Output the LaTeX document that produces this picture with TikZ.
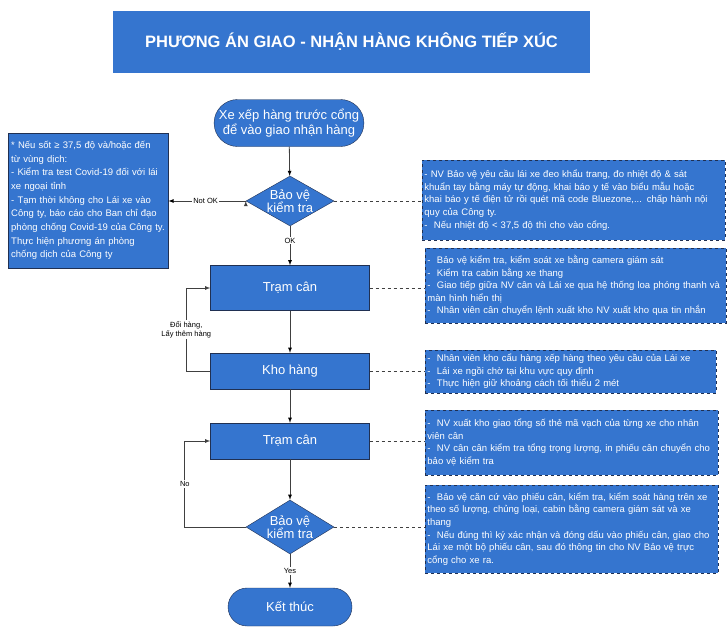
\documentclass[tikz,border=0pt]{standalone}
\usepackage{fontspec}
\setmainfont{Liberation Sans}
\usetikzlibrary{arrows,shapes.geometric,shapes.misc}
\definecolor{boxblue}{RGB}{53,117,207}
\definecolor{edgenavy}{RGB}{32,48,82}
\definecolor{linegray}{RGB}{64,64,64}
\newcommand{\setfs}[2]{\fontsize{#1}{#2}\selectfont}

\begin{document}
\begin{tikzpicture}[x=1pt,y=-1pt,>=latex,
  flow/.style={draw=edgenavy,fill=boxblue,text=white,font=\setfs{13}{15.5},align=center},
  term/.style={flow,rounded rectangle,inner sep=0pt},
  proc/.style={flow,rectangle,minimum width=159,minimum height=45},
  check/.style={flow,diamond,aspect=1.83,inner sep=-9pt,minimum width=88,minimum height=50,
    font=\setfs{13}{13.5}},
  note/.style={draw=edgenavy,dashed,line width=0.9pt,fill=boxblue,text=white,align=left,
    anchor=west,inner sep=2pt,font=\setfs{9.5}{12.6}},
  arr/.style={->,draw=linegray,line width=0.8pt},
  link/.style={draw=linegray,dashed,line width=0.6pt},
  lbl/.style={font=\setfs{7.5}{8.5},fill=white,inner sep=1pt,text=black,align=center}]
  \useasboundingbox (0,0) rectangle (727,637);

  % title
  \node[fill=boxblue,text=white,minimum width=477,minimum height=62,
    font=\bfseries\setfs{16.5}{18}] (title) at (351.5,42) {PHƯƠNG ÁN GIAO - NHẬN HÀNG KHÔNG TIẾP XÚC};

  % main column
  \node[term,minimum width=148,minimum height=47] (start) at (289,123) {Xe xếp hàng trước cổng\\để vào giao nhận hàng};
  \node[check] (gate) at (290,201) {Bảo vệ\\kiểm tra};
  \node[proc] (scale1) at (290,288) {Trạm cân};
  \node[proc,minimum height=36] (store) at (290,371) {Kho hàng};
  \node[proc,minimum height=36] (scale2) at (290,441) {Trạm cân};
  \node[check,minimum height=54] (exit) at (290,527) {Bảo vệ\\kiểm tra};
  \node[term,minimum width=124,minimum height=38] (finish) at (290,607) {Kết thúc};

  % left warning box
  \node[flow,anchor=west,align=left,text width=154,minimum height=135,inner sep=3pt,
    font=\setfs{9.5}{13.7}] (warn) at (8,200.5)
    {* Nếu sốt ≥ 37,5 độ và/hoặc đến\\từ vùng dịch:\\- Kiểm tra test Covid-19 đối với lái\\xe ngoại tỉnh\\- Tạm thời không cho Lái xe vào\\Công ty, báo cáo cho Ban chỉ đạo\\phòng chống Covid-19 của Công ty.\\Thực hiện phương án phòng\\chống dịch của Công ty};

  % right notes
  \node[note,text width=299,minimum height=80] (n1) at (422,200)
    {- NV Bảo vệ yêu cầu lái xe đeo khẩu trang, đo nhiệt độ \& sát\\khuẩn tay bằng máy tự động, khai báo y tế vào biểu mẫu hoặc\\khai báo y tế điện tử rồi quét mã code Bluezone,... chấp hành nội\\quy của Công ty.\\-~~Nếu nhiệt độ < 37,5 độ thì cho vào cổng.};
  \node[note,text width=297,minimum height=75] (n2) at (425,285.5)
    {-~~Bảo vệ kiểm tra, kiểm soát xe bằng camera giám sát\\-~~Kiểm tra cabin bằng xe thang\\-~~Giao tiếp giữa NV cân và Lái xe qua hệ thống loa phóng thanh và\\màn hình hiển thị\\-~~Nhân viên cân chuyển lệnh xuất kho NV xuất kho qua tin nhắn};
  \node[note,text width=287,minimum height=43] (n3) at (425,371.5)
    {-~~Nhân viên kho cẩu hàng xếp hàng theo yêu cầu của Lái xe\\-~~Lái xe ngồi chờ tại khu vực quy định\\-~~Thực hiện giữ khoảng cách tối thiểu 2 mét};
  \node[note,text width=289,minimum height=65] (n4) at (425,442.5)
    {-~~NV xuất kho giao tổng số thẻ mã vạch của từng xe cho nhân\\viên cân\\-~~NV cân cân kiểm tra tổng trọng lượng, in phiếu cân chuyển cho\\bảo vệ kiểm tra};
  \node[note,text width=289,minimum height=88] (n5) at (425,529)
    {-~~Bảo vệ căn cứ vào phiếu cân, kiểm tra, kiểm soát hàng trên xe\\theo số lượng, chủng loại, cabin bằng camera giám sát và xe\\thang\\-~~Nếu đúng thì ký xác nhận và đóng dấu vào phiếu cân, giao cho\\Lái xe một bộ phiếu cân, sau đó thông tin cho NV Bảo vệ trực\\cổng cho xe ra.};

  % flow arrows
  \path[arr] (start) edge (gate);
  \path[arr] (gate) edge node[lbl,pos=0.37] {OK} (scale1);
  \path[arr] (gate.west) edge node[lbl,pos=0.52] {Not OK} (gate.west -| warn.east);
  \path[arr] (scale1) edge (store);
  \path[arr] (store) edge (scale2);
  \path[arr] (scale2) edge (exit);
  \path[arr] (exit) edge node[lbl] {Yes} (finish);
  \draw[arr] (store.west) -- ++(-24,0) |- node[lbl,pos=0.25] {Đổi hàng,\\Lấy thêm hàng} (scale1.west);
  \draw[arr] (exit.west) -- ++(-61,0) |- node[lbl,pos=0.25] {No} (scale2.west);

  % dashed links to notes
  \draw[link] (gate.east) -- (gate.east -| n1.west);
  \draw[link] (scale1.east) -- (scale1.east -| n2.west);
  \draw[link] (store.east) -- (store.east -| n3.west);
  \draw[link] (scale2.east) -- (scale2.east -| n4.west);
  \draw[link] (exit.east) -- (exit.east -| n5.west);
\end{tikzpicture}
\end{document}
